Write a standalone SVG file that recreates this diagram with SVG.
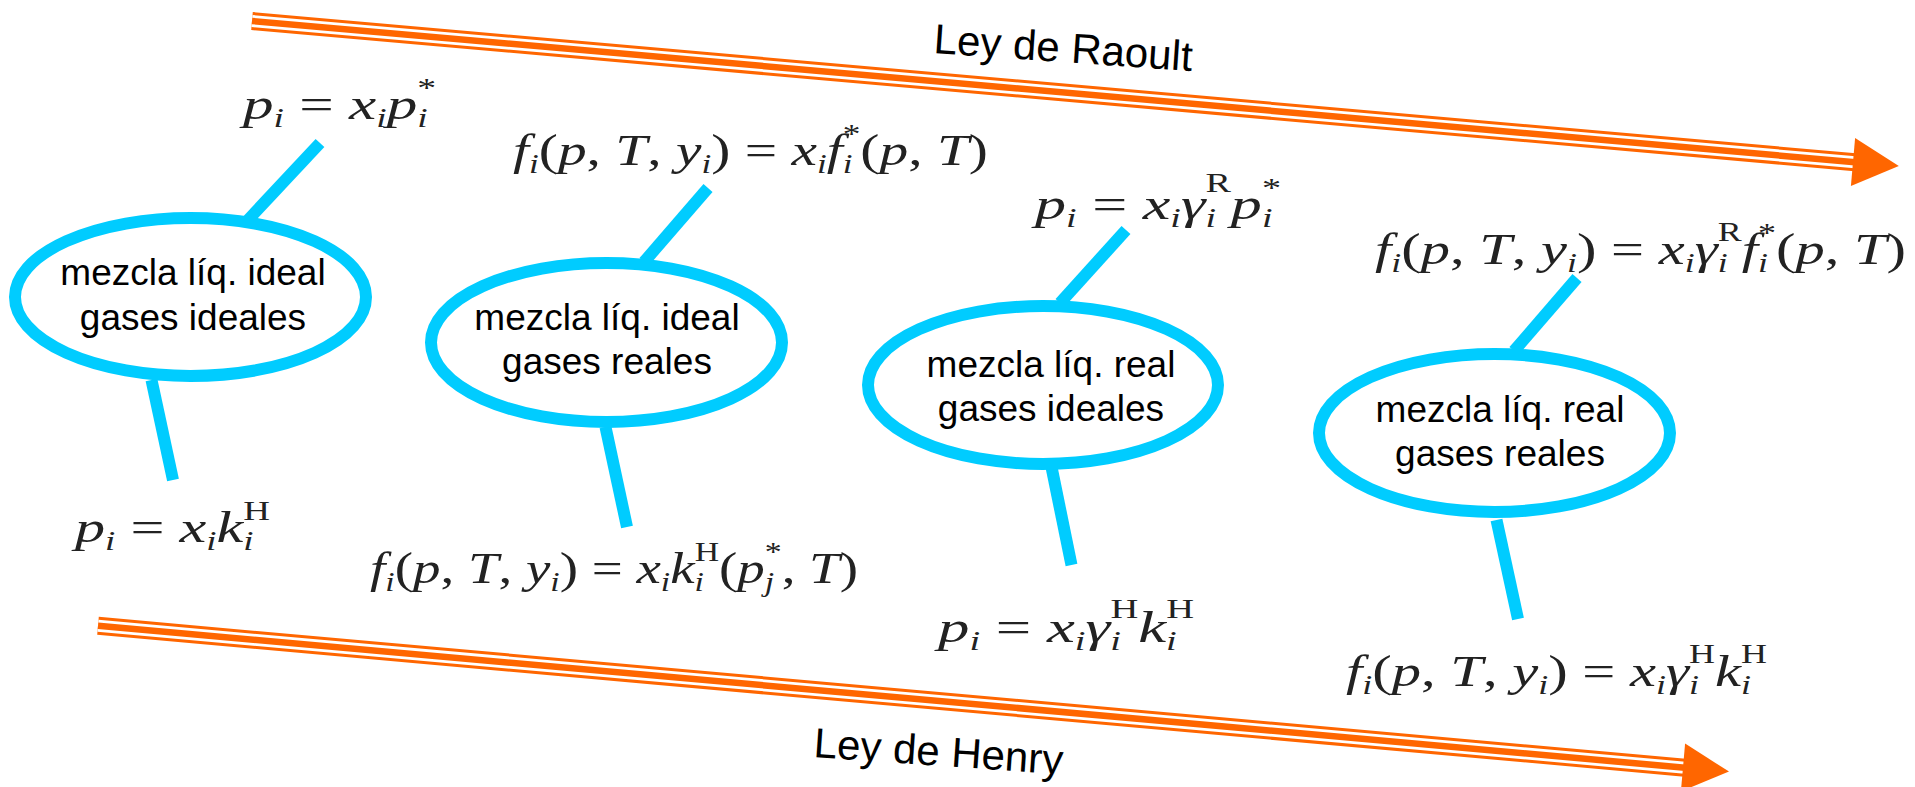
<svg xmlns="http://www.w3.org/2000/svg" width="1915" height="787" viewBox="0 0 1915 787">
<style>
.node ellipse{fill:#fff;stroke:#00CCFF;stroke-width:12}
.node text{font-family:"Liberation Sans",Arial,sans-serif;font-size:37px;fill:#000;text-anchor:middle}
.conn line{stroke:#00CCFF;stroke-width:12;stroke-linecap:butt}
.o1{stroke:#FF6600;stroke-width:18;fill:none}
.o2{stroke:#fff;stroke-width:12;fill:none}
.o3{stroke:#FF6600;stroke-width:6.5;fill:none}
.head{fill:#FF6600}
.lbl{font-family:"Liberation Sans",Arial,sans-serif;font-size:42px;fill:#000}
.m{font-family:"Liberation Serif","Times New Roman",serif;font-style:italic;font-size:44px;fill:#222}
.u{font-style:normal}
.s{font-size:27px}
</style>
<rect width="1915" height="787" fill="#fff"/>

<g id="laws">
  <g id="raoult">
    <line class="o1" x1="252" y1="21" x2="1855" y2="162.2"/>
    <line class="o2" x1="252" y1="21" x2="1855" y2="162.2"/>
    <line class="o3" x1="252" y1="21" x2="1855" y2="162.2"/>
    <polygon class="head" points="1855.1,138.1 1898.8,166.1 1850.9,185.9"/>
    <text class="lbl" x="933" y="53" transform="rotate(4 933 53)">Ley de Raoult</text>
  </g>
  <g id="henry">
    <line class="o1" x1="98" y1="625.8" x2="1685" y2="767.7"/>
    <line class="o2" x1="98" y1="625.8" x2="1685" y2="767.7"/>
    <line class="o3" x1="98" y1="625.8" x2="1685" y2="767.7"/>
    <polygon class="head" points="1685.1,743.6 1729,771.6 1680.9,791.4"/>
    <text class="lbl" x="813" y="757" transform="rotate(4 813 757)">Ley de Henry</text>
  </g>
</g>

<g id="connectors" class="conn">
  <line x1="248" y1="220" x2="320" y2="143"/>
  <line x1="151.5" y1="380" x2="173" y2="480"/>
  <line x1="644" y1="262" x2="708" y2="188"/>
  <line x1="605.5" y1="427" x2="627" y2="527"/>
  <line x1="1060" y1="303" x2="1126" y2="230"/>
  <line x1="1051.5" y1="467" x2="1071.5" y2="565"/>
  <line x1="1514" y1="351" x2="1577" y2="278"/>
  <line x1="1496.5" y1="520" x2="1518" y2="619"/>
</g>

<g id="n1" class="node">
  <ellipse cx="190.5" cy="297" rx="175.5" ry="79"/>
  <text x="193" y="285">mezcla líq. ideal</text>
  <text x="193" y="330">gases ideales</text>
</g>
<g id="n2" class="node">
  <ellipse cx="606.5" cy="342.5" rx="175.5" ry="79.5"/>
  <text x="607" y="330">mezcla líq. ideal</text>
  <text x="607" y="374">gases reales</text>
</g>
<g id="n3" class="node">
  <ellipse cx="1043" cy="385" rx="175" ry="79"/>
  <text x="1051" y="377">mezcla líq. real</text>
  <text x="1051" y="421">gases ideales</text>
</g>
<g id="n4" class="node">
  <ellipse cx="1494.5" cy="433" rx="175.5" ry="79"/>
  <text x="1500" y="422">mezcla líq. real</text>
  <text x="1500" y="466">gases reales</text>
</g>

<g id="f1"><text class="m" x="243" y="119" textLength="193" lengthAdjust="spacingAndGlyphs">p<tspan class="s" dy="8">i</tspan><tspan class="u" dy="-8"> = </tspan>x<tspan class="s" dy="8">i</tspan><tspan dy="-8">p</tspan><tspan class="s" dy="8">i</tspan><tspan class="s u" dx="-7.5" dy="-30">*</tspan></text></g>

<g id="f2"><text class="m" x="513" y="165" textLength="475" lengthAdjust="spacingAndGlyphs">f<tspan class="s" dy="8">i</tspan><tspan class="u" dy="-8">(</tspan>p<tspan class="u">, </tspan>T<tspan class="u">, </tspan>y<tspan class="s" dy="8">i</tspan><tspan class="u" dy="-8">) = </tspan>x<tspan class="s" dy="8">i</tspan><tspan dy="-8">f</tspan><tspan class="s" dy="8">i</tspan><tspan class="s u" dx="-7.5" dy="-30">*</tspan><tspan class="u" dy="22">(</tspan>p<tspan class="u">, </tspan>T<tspan class="u">)</tspan></text></g>

<g id="f3"><text class="m" x="1035" y="219" textLength="246" lengthAdjust="spacingAndGlyphs">p<tspan class="s" dy="8">i</tspan><tspan class="u" dy="-8"> = </tspan>x<tspan class="s" dy="8">i</tspan><tspan dy="-8">γ</tspan><tspan class="s" dy="8">i</tspan><tspan class="s u" dx="-7.5" dy="-35">R</tspan><tspan dy="27">p</tspan><tspan class="s" dy="8">i</tspan><tspan class="s u" dx="-7.5" dy="-30">*</tspan></text></g>

<g id="f4"><text class="m" x="1375" y="264" textLength="531" lengthAdjust="spacingAndGlyphs">f<tspan class="s" dy="8">i</tspan><tspan class="u" dy="-8">(</tspan>p<tspan class="u">, </tspan>T<tspan class="u">, </tspan>y<tspan class="s" dy="8">i</tspan><tspan class="u" dy="-8">) = </tspan>x<tspan class="s" dy="8">i</tspan><tspan dy="-8">γ</tspan><tspan class="s" dy="8">i</tspan><tspan class="s u" dx="-7.5" dy="-31">R</tspan><tspan dy="23">f</tspan><tspan class="s" dy="8">i</tspan><tspan class="s u" dx="-7.5" dy="-30">*</tspan><tspan class="u" dy="22">(</tspan>p<tspan class="u">, </tspan>T<tspan class="u">)</tspan></text></g>

<g id="f5"><text class="m" x="75" y="542" textLength="195" lengthAdjust="spacingAndGlyphs">p<tspan class="s" dy="8">i</tspan><tspan class="u" dy="-8"> = </tspan>x<tspan class="s" dy="8">i</tspan><tspan dy="-8">k</tspan><tspan class="s" dy="8">i</tspan><tspan class="s u" dx="-7.5" dy="-30">H</tspan></text></g>

<g id="f6"><text class="m" x="370" y="583" textLength="488" lengthAdjust="spacingAndGlyphs">f<tspan class="s" dy="8">i</tspan><tspan class="u" dy="-8">(</tspan>p<tspan class="u">, </tspan>T<tspan class="u">, </tspan>y<tspan class="s" dy="8">i</tspan><tspan class="u" dy="-8">) = </tspan>x<tspan class="s" dy="8">i</tspan><tspan dy="-8">k</tspan><tspan class="s" dy="8">i</tspan><tspan class="s u" dx="-7.5" dy="-30">H</tspan><tspan class="u" dy="22">(</tspan>p<tspan class="s" dy="8">j</tspan><tspan class="s u" dx="-7.5" dy="-30">*</tspan><tspan class="u" dy="22">, </tspan>T<tspan class="u">)</tspan></text></g>

<g id="f7"><text class="m" x="938" y="642" textLength="256" lengthAdjust="spacingAndGlyphs">p<tspan class="s" dy="8">i</tspan><tspan class="u" dy="-8"> = </tspan>x<tspan class="s" dy="8">i</tspan><tspan dy="-8">γ</tspan><tspan class="s" dy="8">i</tspan><tspan class="s u" dx="-7.5" dy="-32">H</tspan><tspan dy="24">k</tspan><tspan class="s" dy="8">i</tspan><tspan class="s u" dx="-7.5" dy="-32">H</tspan></text></g>

<g id="f8"><text class="m" x="1346" y="686" textLength="421" lengthAdjust="spacingAndGlyphs">f<tspan class="s" dy="8">i</tspan><tspan class="u" dy="-8">(</tspan>p<tspan class="u">, </tspan>T<tspan class="u">, </tspan>y<tspan class="s" dy="8">i</tspan><tspan class="u" dy="-8">) = </tspan>x<tspan class="s" dy="8">i</tspan><tspan dy="-8">γ</tspan><tspan class="s" dy="8">i</tspan><tspan class="s u" dx="-7.5" dy="-31">H</tspan><tspan dy="23">k</tspan><tspan class="s" dy="8">i</tspan><tspan class="s u" dx="-7.5" dy="-31">H</tspan></text></g>
</svg>
